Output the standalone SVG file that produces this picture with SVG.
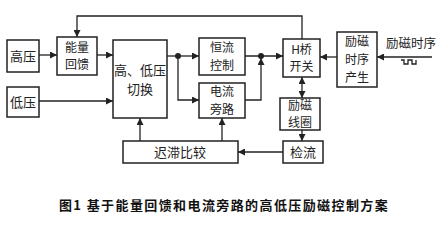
<svg xmlns="http://www.w3.org/2000/svg" width="440" height="227" viewBox="0 0 440 227">
<style>
.box{fill:#fff;stroke:#222;stroke-width:1.5}
.t{font-family:"Noto Sans CJK SC","Noto Sans CJK JP",sans-serif;font-size:13px;fill:#222;text-anchor:middle}
.s{font-size:12px}
.ln{fill:none;stroke:#222;stroke-width:1.3}
.cap{font-family:"Noto Sans CJK SC",sans-serif;font-size:13px;font-weight:bold;fill:#111;text-anchor:middle}
</style>
<defs>
<marker id="a" viewBox="0 0 10 10" refX="10" refY="5" markerWidth="7" markerHeight="7" markerUnits="userSpaceOnUse" orient="auto-start-reverse"><path d="M0,0 L10,5 L0,10 z" fill="#222"/></marker>
</defs>
<rect width="440" height="227" fill="#fff"/>
<g id="gaoya"><rect class="box" x="7" y="40" width="32" height="32"/><text class="t" x="23" y="61">高压</text></g>
<g id="diya"><rect class="box" x="7" y="87" width="32" height="30"/><text class="t" x="23" y="107">低压</text></g>
<g id="nengliang"><rect class="box" x="57" y="37" width="40" height="38"/><text class="t s" x="77" y="51.5">能量</text><text class="t s" x="77" y="69.2">回馈</text></g>
<g id="qiehuan"><rect class="box" x="113" y="40" width="54" height="78"/><text class="t" x="140" y="75">高、低压</text><text class="t" x="140" y="94">切换</text></g>
<g id="hengliu"><rect class="box" x="199" y="38" width="46" height="37"/><text class="t s" x="222" y="52">恒流</text><text class="t s" x="222" y="69.6">控制</text></g>
<g id="panglu"><rect class="box" x="199" y="83" width="46" height="35"/><text class="t s" x="222" y="96.3">电流</text><text class="t s" x="222" y="113.9">旁路</text></g>
<g id="hqiao"><rect class="box" x="283" y="39" width="37" height="38"/><text class="t s" x="301.5" y="53.6">H桥</text><text class="t s" x="301.5" y="71.2">开关</text></g>
<g id="shixu"><rect class="box" x="337" y="32" width="40" height="55"/><text class="t s" x="357" y="46.4">励磁</text><text class="t s" x="357" y="64">时序</text><text class="t s" x="357" y="81.6">产生</text></g>
<g id="xianquan"><rect class="box" x="280" y="98" width="40" height="32"/><text class="t s" x="300" y="109.6">励磁</text><text class="t s" x="300" y="127.2">线圈</text></g>
<g id="jianliu"><rect class="box" x="283" y="141" width="40" height="22"/><text class="t" x="303" y="157">检流</text></g>
<g id="chizhi"><rect class="box" x="123" y="141" width="115" height="22"/><text class="t" x="180" y="157">迟滞比较</text></g>
<g id="input"><text class="t" x="411" y="48" style="font-size:12.5px">励磁时序</text><path class="ln" d="M401,60 H404 V64 H408 V60 H412 V64 H416 V60" stroke-width="1"/></g>
<g id="connectors">
<path class="ln" d="M39,55 H57" marker-end="url(#a)"/>
<path class="ln" d="M97,55 H113" marker-end="url(#a)"/>
<path class="ln" d="M39,101 H113" marker-end="url(#a)"/>
<path class="ln" d="M167,56 H199" marker-end="url(#a)"/>
<path class="ln" d="M178,56 V100 H199" marker-end="url(#a)"/>
<circle cx="178" cy="56" r="3" fill="#222"/>
<path class="ln" d="M245,56 H283" marker-end="url(#a)"/>
<path class="ln" d="M245,100 H261 V58" marker-end="url(#a)"/>
<circle cx="261" cy="56" r="3" fill="#222"/>
<path class="ln" d="M302,39 V16 H77 V37" marker-end="url(#a)"/>
<path class="ln" d="M337,57 H320" marker-end="url(#a)"/>
<path class="ln" d="M432,57 H377" marker-end="url(#a)"/>
<path class="ln" d="M302,77 V98" marker-start="url(#a)" marker-end="url(#a)"/>
<path class="ln" d="M302,130 V141" marker-end="url(#a)"/>
<path class="ln" d="M283,152 H238" marker-end="url(#a)"/>
<path class="ln" d="M140,141 V118" marker-end="url(#a)"/>
<path class="ln" d="M222,141 V118" marker-end="url(#a)"/>
</g>
<text class="cap" x="224" y="210" style="letter-spacing:1.4px">图1  基于能量回馈和电流旁路的高低压励磁控制方案</text>
</svg>
